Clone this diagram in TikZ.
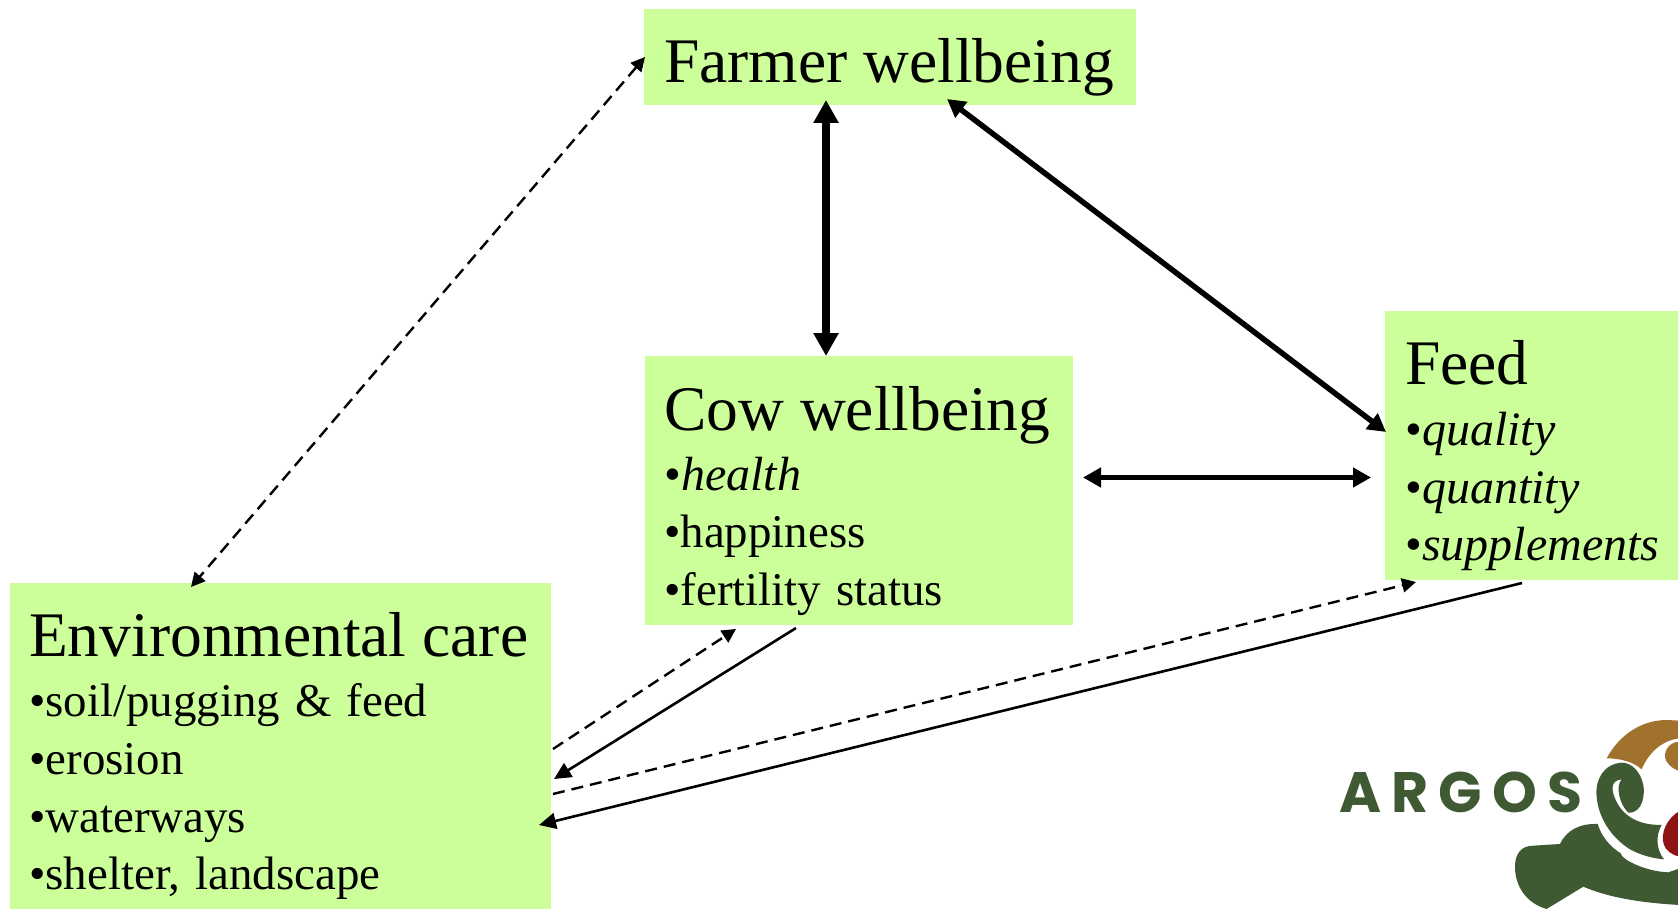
\documentclass[tikz,border=0pt]{standalone}
\usepackage{fontspec}
\setmainfont{Liberation Serif}
\newfontfamily\logofont{Poppins}[LetterSpace=18]
\usetikzlibrary{arrows.meta}
\definecolor{boxgreen}{HTML}{CCFF99}
\definecolor{logogreen}{HTML}{3F5A33}
\definecolor{logobrown}{HTML}{A0722D}
\definecolor{logored}{HTML}{8E1414}
\newcommand{\titlesize}{\fontsize{63.5}{66}\selectfont}
\newcommand{\itemsize}{\fontsize{46.9}{57.5}\selectfont\spaceskip=15pt\relax}
\newcommand{\itsize}{\fontsize{48}{57.5}\selectfont}
\tikzset{
 box/.style={fill=boxgreen,draw=none,minimum width=0pt,inner sep=0pt},
 boxtext/.style={anchor=north west,inner sep=0pt,align=left,text=black},
 thickarrow/.style={line width=8pt,{Triangle[length=23pt,width=24pt]}-{Triangle[length=23pt,width=24pt]}},
 medarrow/.style={line width=4.5pt,{Triangle[length=18pt,width=19pt]}-{Triangle[length=18pt,width=19pt]}},
 onearrow/.style={line width=2.6pt,-{Triangle[length=17pt,width=16pt]}},
 dasharrow/.style={line width=2.4pt,dash pattern=on 12pt off 7pt,-{Triangle[length=14pt,width=14pt]}},
 dashboth/.style={dasharrow,{Triangle[length=14pt,width=14pt]}-{Triangle[length=14pt,width=14pt]}},
}
\begin{document}
\begin{tikzpicture}[x=1pt,y=-1pt]
\useasboundingbox[clip] (0,0) rectangle (1678,909);
\fill[white] (0,0) rectangle (1678,909);
% boxes
\node[box,minimum width=492pt,minimum height=96pt,anchor=north west] (farmer) at (644,9) {};
\node[box,minimum width=428pt,minimum height=269pt,anchor=north west] (cow) at (645,356) {};
\node[box,minimum width=293pt,minimum height=269pt,anchor=north west] (feed) at (1385,310.5) {};
\node[box,minimum width=541pt,minimum height=327pt,anchor=north west] (env) at (10,582.5) {};
% texts
\node[boxtext,anchor=base west] (farmertitle) at (664,83) {\titlesize Farmer wellbeing};
\node[boxtext,anchor=base west] (cowtitle) at (664,430) {\titlesize Cow wellbeing};
\node[boxtext,anchor=base west] (feedtitle) at (1405,384) {\titlesize Feed};
\node[boxtext,anchor=base west] (envtitle) at (29,656.5) {\titlesize Environmental care};
\node[boxtext,anchor=base west] (c1) at (664,490.5) {\itsize •\textit{health}};
\node[boxtext,anchor=base west] (c2) at (664,547) {\itemsize •happiness};
\node[boxtext,anchor=base west] (c3) at (664,605) {\itemsize •fertility status};
\node[boxtext,anchor=base west] (f1) at (1405,445) {\itsize •\textit{quality}};
\node[boxtext,anchor=base west] (f2) at (1405,503) {\itsize •\textit{quantity}};
\node[boxtext,anchor=base west] (f3) at (1405,560) {\itsize •\textit{supplements}};
\node[boxtext,anchor=base west] (e1) at (29,716) {\itemsize •soil/pugging \& feed};
\node[boxtext,anchor=base west] (e2) at (29,774) {\itemsize •erosion};
\node[boxtext,anchor=base west] (e3) at (29,832) {\itemsize •waterways};
\node[boxtext,anchor=base west] (e4) at (29,889) {\itemsize •shelter, landscape};
% connector ends
\coordinate (a1) at (826,100); \coordinate (a2) at (826,356);
\coordinate (b1) at (947,99); \coordinate (b2) at (1386,432);
\coordinate (c1e) at (1083,477.5); \coordinate (c2e) at (1371,477.5);
\coordinate (d1) at (645,57); \coordinate (d2) at (191,587);
\coordinate (g1) at (553,749); \coordinate (g2) at (736,629);
\coordinate (h1) at (796,628); \coordinate (h2) at (554,779);
\coordinate (i1) at (553,794); \coordinate (i2) at (1416,582);
\coordinate (j1) at (1522,583); \coordinate (j2) at (539,825);
% connectors
\draw[thickarrow] (a1) -- (a2);
\draw[medarrow,line width=5.5pt] (b1) -- (b2);
\draw[medarrow] (c1e) -- (c2e);
\draw[dashboth] (d1) -- (d2);
\draw[dasharrow] (g1) -- (g2);
\draw[onearrow] (h1) -- (h2);
\draw[dasharrow] (i1) -- (i2);
\draw[onearrow] (j1) -- (j2);
% logo
\node[anchor=base west,inner sep=0pt,text=logogreen] (argos) at (1339,812.5) {\fontsize{57}{60}\logofont\bfseries ARGOS};
\begin{scope}[shift={(1300,690)},x=0.3333pt,y=-0.3333pt]
\fill[logobrown] (920,205) .. controls (960,130) and (1030,90) .. (1100,90) -- (1140,92) -- (1140,145) .. controls (1085,150) and (1045,190) .. (1025,238) .. controls (1000,215) and (960,205) .. (920,205) -- cycle;
\fill[logobrown] (1140,155) .. controls (1105,155) and (1085,190) .. (1100,215) .. controls (1110,230) and (1125,240) .. (1140,243) -- cycle;
\fill[logored] (1140,362) .. controls (1100,385) and (1080,430) .. (1092,465) .. controls (1100,485) and (1120,497) .. (1140,500) -- cycle;
% spiral
\fill[logogreen] (965,218) .. controls (910,222) and (885,270) .. (890,320) .. controls (895,380) and (930,440) .. (990,478) .. controls (1025,497) and (1060,505) .. (1092,508) .. controls (1070,480) and (1065,440) .. (1085,405) .. controls (1050,405) and (990,400) .. (955,345) .. controls (935,310) and (925,272) .. (965,268) .. controls (945,290) and (960,345) .. (985,368) .. controls (1030,370) and (1035,310) .. (1030,285) .. controls (1022,245) and (995,218) .. (965,218) -- cycle;
% body
\fill[logogreen] (645,530) .. controls (645,490) and (665,467) .. (700,467) -- (780,462) .. controls (800,420) and (840,400) .. (893,402) .. controls (905,440) and (930,470) .. (962,490) .. controls (965,510) and (1040,545) .. (1105,547) -- (1140,535) -- (1140,645) .. controls (1040,640) and (930,625) .. (850,590) -- (740,657) .. controls (680,640) and (645,590) .. (645,530) -- cycle;
\end{scope}
\end{tikzpicture}
\end{document}
